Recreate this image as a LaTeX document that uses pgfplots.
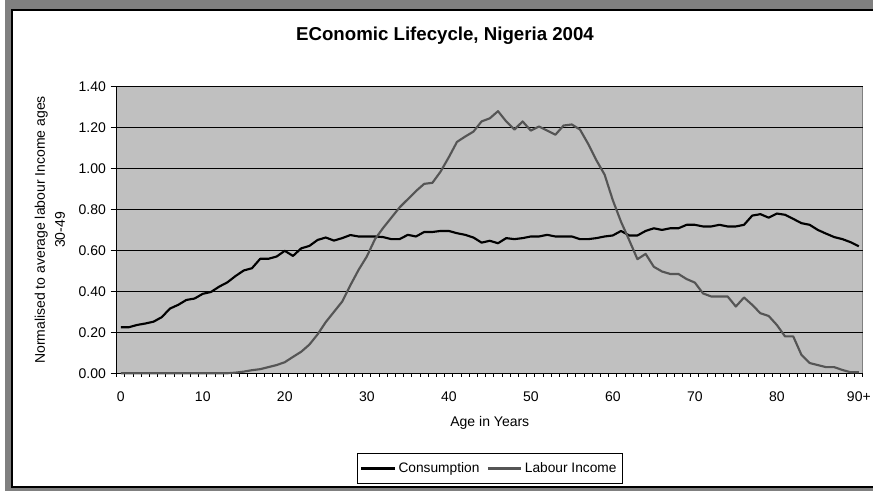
\documentclass[border=0pt]{standalone}
\usepackage{pgfplots}
\pgfplotsset{compat=1.18}
\usepackage{pgfplotstable}
\usepackage{fontspec}
\setmainfont{Liberation Sans}
\definecolor{plotbg}{HTML}{C0C0C0}
\definecolor{framegray}{HTML}{808080}
\definecolor{labour}{HTML}{555555}

\pgfplotstableread{
age cons
0 0.225
1 0.225
2 0.236
3 0.243
4 0.252
5 0.274
6 0.316
7 0.334
8 0.358
9 0.365
10 0.388
11 0.397
12 0.423
13 0.444
14 0.475
15 0.502
16 0.513
17 0.559
18 0.559
19 0.570
20 0.598
21 0.573
22 0.610
23 0.622
24 0.651
25 0.663
26 0.648
27 0.660
28 0.675
29 0.668
30 0.668
31 0.668
32 0.665
33 0.655
34 0.655
35 0.676
36 0.668
37 0.690
38 0.690
39 0.695
40 0.695
41 0.684
42 0.676
43 0.663
44 0.638
45 0.647
46 0.635
47 0.660
48 0.655
49 0.660
50 0.668
51 0.668
52 0.676
53 0.668
54 0.668
55 0.668
56 0.655
57 0.655
58 0.660
59 0.668
60 0.673
61 0.695
62 0.673
63 0.673
64 0.695
65 0.708
66 0.700
67 0.708
68 0.708
69 0.725
70 0.725
71 0.717
72 0.717
73 0.725
74 0.717
75 0.717
76 0.725
77 0.770
78 0.777
79 0.760
80 0.780
81 0.774
82 0.754
83 0.733
84 0.725
85 0.700
86 0.682
87 0.665
88 0.655
89 0.640
90 0.620
}\constable

\pgfplotstableread{
age lab
0 0
1 0
2 0
3 0
4 0
5 0
6 0
7 0
8 0
9 0
10 0
11 0
12 0
13 0
14 0.003
15 0.008
16 0.015
17 0.020
18 0.030
19 0.040
20 0.054
21 0.080
22 0.105
23 0.140
24 0.190
25 0.250
26 0.300
27 0.350
28 0.430
29 0.505
30 0.570
31 0.655
32 0.710
33 0.760
34 0.810
35 0.850
36 0.890
37 0.925
38 0.930
39 0.985
40 1.055
41 1.130
42 1.156
43 1.180
44 1.230
45 1.245
46 1.280
47 1.230
48 1.190
49 1.230
50 1.185
51 1.205
52 1.185
53 1.165
54 1.210
55 1.215
56 1.190
57 1.120
58 1.040
59 0.970
60 0.845
61 0.740
62 0.650
63 0.557
64 0.583
65 0.520
66 0.497
67 0.485
68 0.485
69 0.460
70 0.443
71 0.390
72 0.375
73 0.375
74 0.375
75 0.326
76 0.370
77 0.334
78 0.293
79 0.280
80 0.236
81 0.180
82 0.180
83 0.090
84 0.050
85 0.040
86 0.030
87 0.030
88 0.016
89 0.005
90 0.005
}\labtable

\begin{document}
\begin{tikzpicture}
\path[use as bounding box] (0,0) rectangle (654.75pt,368.25pt);
\fill[framegray] (3.75pt,0) rectangle (662pt,368.25pt);
\fill[white] (9pt,3pt) rectangle (662pt,360.75pt);
\draw[black, line width=1.1pt] (662pt,3pt) -- (9pt,3pt) -- (9pt,360.75pt) -- (662pt,360.75pt);
\node[font=\fontsize{14}{16}\selectfont\bfseries] at (333.75pt,341.25pt) {EConomic Lifecycle, Nigeria 2004};
\begin{axis}[
  at={(87.5pt,88.3pt)}, anchor=south west,
  scale only axis, width=559.7pt, height=215pt,
  xmin=-0.5, xmax=90.5, ymin=0, ymax=1.4,
  clip=false,
  axis x line*=bottom, axis y line*=left,
  axis line style={black, line width=0.75pt},
  axis background/.style={fill=plotbg, draw=framegray, line width=0.75pt},
  ymajorgrids, major grid style={black, line width=0.6pt},
  ytick={0,0.2,0.4,0.6,0.8,1.0,1.2,1.4},
  yticklabel style={/pgf/number format/.cd, fixed, fixed zerofill, precision=2},
  /pgf/number format/assume math mode=true,
  xtick={0,10,20,30,40,50,60,70,80,90},
  xticklabels={0,10,20,30,40,50,60,70,80,90+},
  xticklabel style={yshift=-6pt},
  minor xtick={-0.5,0.5,...,90.5},
  tick align=outside,
  major tick length=4.5pt, minor tick length=2.5pt,
  major x tick style={draw=none},
  every tick/.style={black, line width=0.75pt},
  minor tick style={black, line width=0.75pt},
  tick label style={font=\fontsize{10.5}{12}\selectfont},
  xlabel={Age in Years},
  xlabel style={at={(axis description cs:0.5,-0.1734)}, anchor=center, font=\fontsize{10.5}{12}\selectfont},
  ylabel={Normalised to average labour Income ages\\30-49},
  ylabel style={at={(axis description cs:-0.0894,0.5)}, anchor=center, align=center, font=\fontsize{10.5}{15}\selectfont},
  legend columns=2,
  legend style={at={(axis description cs:0.5,-0.332)}, anchor=center, draw=black, line width=0.75pt, fill=white,
    font=\fontsize{10.3}{12}\selectfont, inner xsep=2.5pt, inner ysep=4.5pt,
    /tikz/every even column/.append style={column sep=3.5pt}},
  legend image code/.code={\draw[#1] (0pt,0pt) -- (25pt,0pt);},
]
\addplot[black, line width=1.6pt, line join=round] table[x=age, y=cons] {\constable};
\addlegendentry{Consumption}
\addplot[labour, line width=1.6pt, line join=round] table[x=age, y=lab] {\labtable};
\addlegendentry{Labour Income}
\end{axis}
\end{tikzpicture}
\end{document}
